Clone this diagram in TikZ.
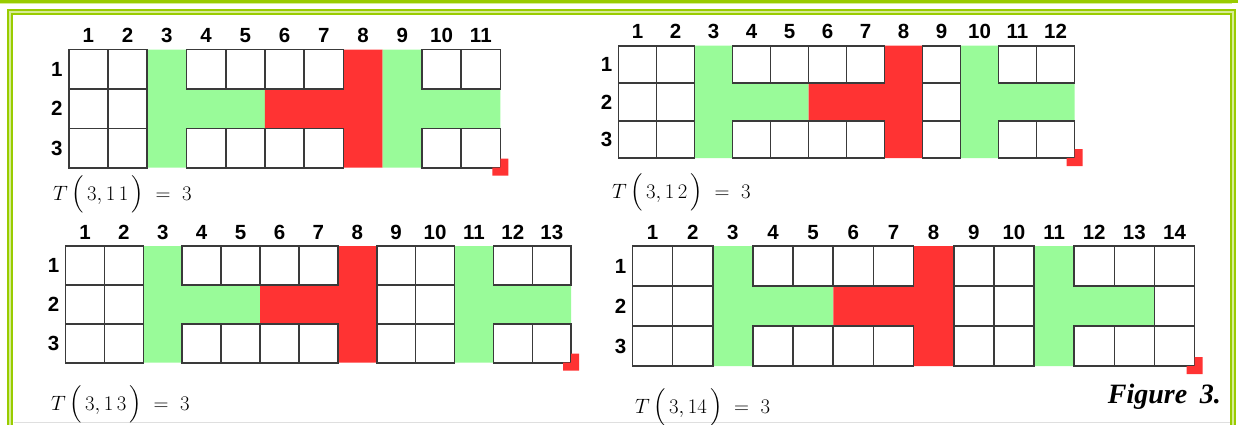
\documentclass[tikz,border=0pt]{standalone}
\usepackage{fontspec}
\usepackage{amsmath}
\usetikzlibrary{calc}
\newfontfamily\numfont{Liberation Sans}
\newfontfamily\capfont{Liberation Serif}
\definecolor{framegreen}{RGB}{153,204,0}
\definecolor{framelight}{RGB}{214,236,150}
\definecolor{cellgreen}{RGB}{153,251,153}
\definecolor{cellred}{RGB}{255,51,51}
\definecolor{gridgray}{RGB}{58,58,58}

% #1 name, #2 #3 top left, #4 #5 cell size, #6 columns, #7 column of the second T
\newcommand{\tgrid}[7]{%
\begin{scope}[shift={(#2,#3)}, x=#4pt, y=-#5pt]
  \fill[tgreen] (2,0) -- (3,0) -- (3,1) -- (5,1) -- (5,2) -- (3,2) -- (3,3) -- (2,3) -- cycle;
  \fill[tred] (5,1) -- (7,1) -- (7,0) -- (8,0) -- (8,3) -- (7,3) -- (7,2) -- (5,2) -- cycle;
  \fill[tgreen] (#7-1,0) -- (#7,0) -- (#7,1) -- (#7+2,1) -- (#7+2,2) -- (#7,2) -- (#7,3) -- (#7-1,3) -- cycle;
  \foreach \col in {1,...,#6} {
    \node[colnum] (#1-c\col) at (\col-0.5,0) {\col};
    \foreach \row in {1,2,3} {
      \pgfmathtruncatemacro\hit{or(or(\col==3,\col==8),or(\col==#7,and(\row==2,or(and(\col>3,\col<8),and(\col>#7,\col<#7+3)))))}
      \ifnum\hit=0 \draw[cellline] (\col-1,\row-1) rectangle (\col,\row);\fi
    }
  }
  \foreach \row in {1,2,3}
    \node[rownum] (#1-r\row) at (0,\row-0.5) {\row};
  \coordinate (#1-end) at (#6,3);
  \fill[cellred] (#1-end) -- ++(0,9pt) -- ++(8pt,0) -- ++(0,-17pt) -- ++(-16pt,0) -- ++(0,8pt) -- cycle;
\end{scope}}

\begin{document}
\begin{tikzpicture}[
    x=1pt, y=-1pt,
    colnum/.style={inner sep=0pt, anchor=base, yshift=7pt,
        font=\numfont\bfseries\fontsize{20.5}{20.5}\selectfont},
    rownum/.style={inner sep=0pt, anchor=east, xshift=-6pt,
        font=\numfont\bfseries\fontsize{20.5}{20.5}\selectfont},
    cellline/.style={draw=gridgray, line width=1.6pt},
    tgreen/.style={fill=cellgreen},
    tred/.style={fill=cellred},
    tlabel/.style={inner sep=0pt, anchor=base west,
        font=\fontsize{20}{24}\selectfont},
    figtext/.style={inner sep=0pt, anchor=base east,
        font=\capfont\bfseries\itshape\fontsize{28}{30}\selectfont}
]
\useasboundingbox (0,0) rectangle (1241,424);
\clip (0,0) rectangle (1241,424);

\draw[framegreen, line width=2.6pt] (-2,1.2) -- (1236.5,1.2) -- (1236.5,-5);
\draw[framelight, line width=1.2pt] (-2,3.6) -- (1232,3.6);
\draw[framelight, line width=6pt] (10.3,430) -- (10.3,12.2) -- (1233.2,12.2) -- (1233.2,430);
\draw[framegreen, line width=2pt] (8.3,430) -- (8.3,10.2) -- (1235.3,10.2) -- (1235.3,430);
\draw[framegreen, line width=2pt] (12.3,430) -- (12.3,14.3) -- (1231.1,14.3) -- (1231.1,430);
\draw[gray!25, line width=1pt] (13.5,422.5) -- (1230,422.5);

\tgrid{ga}{68.7}{49.5}{39.25}{39.4}{11}{9}
\tgrid{gb}{618.5}{45.7}{38}{37.5}{12}{10}
\tgrid{gc}{65.5}{246}{38.9}{38.9}{13}{11}
\tgrid{gd}{632.5}{246}{40.15}{40}{14}{11}

\node[tlabel] (laba) at (53,200) {$T\,\Big(\,3,1\,1\,\Big)\;=\;3$};
\node[tlabel] (labb) at (612,198) {$T\,\Big(\,3,1\,2\,\Big)\;=\;3$};
\node[tlabel] (labc) at (51,410) {$T\,\Big(\,3,1\,3\,\Big)\;=\;3$};
\node[tlabel] (labd) at (635,413) {$T\,\Big(\,3,14\,\Big)\;=\;3$};
\node[figtext] (figlabel) at (1221,403) {Figure\hspace{0.45em}3.};
\end{tikzpicture}
\end{document}
